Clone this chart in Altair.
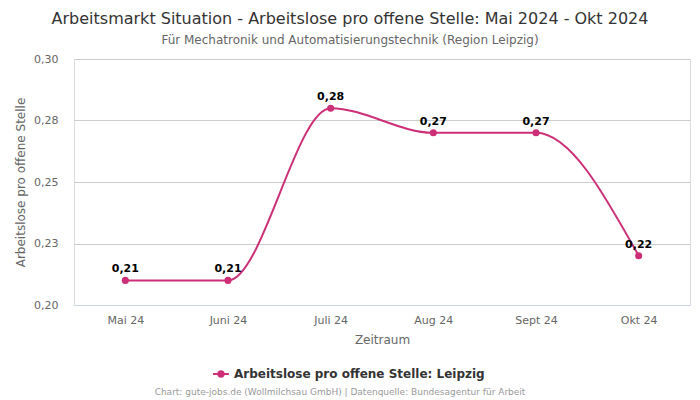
import altair as alt
import pandas as pd

months = ["Mai 24", "Juni 24", "Juli 24", "Aug 24", "Sept 24", "Okt 24"]
values = [0.21, 0.21, 0.28, 0.27, 0.27, 0.22]
series = "Arbeitslose pro offene Stelle: Leipzig"
y_ticks = [0.2, 0.225, 0.25, 0.275, 0.3]

df = pd.DataFrame({"Monat": months, "Wert": values, "Serie": [series] * len(months)})

COLOR = "#cc2f78"
FONT = "DejaVu Sans"

x = alt.X("Monat:N", sort=months, title="Zeitraum",
          scale=alt.Scale(type="point", padding=0.5),
          axis=alt.Axis(labelAngle=0, labelColor="#666666", labelFontSize=11,
                        titleColor="#666666", titleFontSize=12, titleFontWeight="normal",
                        ticks=False, domainColor="#ccd6eb", labelPadding=9, titlePadding=9,
                        grid=False))
y = alt.Y("Wert:Q", title="Arbeitslose pro offene Stelle",
          scale=alt.Scale(domain=[0.2, 0.3], nice=False, zero=False),
          axis=alt.Axis(values=y_ticks, labelExpr="replace(format(datum.value, '.2f'), '.', ',')",
                        labelColor="#666666", labelFontSize=11, titleColor="#666666",
                        titleFontSize=12, titleFontWeight="normal", domain=False, ticks=False,
                        gridColor="#cccccc", labelPadding=16, titlePadding=6))

color = alt.Color("Serie:N", scale=alt.Scale(range=[COLOR]),
                  legend=alt.Legend(title=None, orient="none", legendX=138, legendY=306,
                                    labelFontSize=12, labelFontWeight="bold", labelColor="#333333",
                                    labelLimit=400,
                                    symbolType="M -1 0 L -0.35 0 M 0.35 0 L 1 0 M -0.35 0 A 0.35 0.35 0 1 1 0.35 0 A 0.35 0.35 0 1 1 -0.35 0",
                                    symbolSize=250, symbolStrokeWidth=2, symbolFillColor=COLOR,
                                    symbolStrokeColor=COLOR, labelFont=FONT))

base = alt.Chart(df)
line = base.mark_line(interpolate="monotone", strokeWidth=2).encode(x=x, y=y, color=color)
pts = base.mark_circle(size=50, opacity=1).encode(x=x, y=y, color=alt.Color("Serie:N", scale=alt.Scale(range=[COLOR]), legend=None))
labels = base.mark_text(dy=-11, fontWeight="bold", fontSize=11, color="black", font=FONT).encode(
    x=x, y=y, text=alt.Text("lbl:N")).transform_calculate(
    lbl="replace(format(datum.Wert, '.2f'), '.', ',')")
footer = alt.Chart(pd.DataFrame({"t": ["Chart: gute-jobs.de (Wollmilchsau GmbH) | Datenquelle: Bundesagentur für Arbeit"]})).mark_text(
    fontSize=9, fontWeight="normal", color="#999999", font=FONT).encode(
    x=alt.value(266), y=alt.value(333), text="t:N")

chart = alt.layer(line, pts, labels, footer).properties(
    width=616, height=246,
    title=alt.TitleParams(
        text="Arbeitsmarkt Situation - Arbeitslose pro offene Stelle: Mai 2024 - Okt 2024",
        subtitle="Für Mechatronik und Automatisierungstechnik (Region Leipzig)",
        anchor="middle", dx=-32, fontSize=16, fontWeight="normal", color="#333333",
        subtitleFontSize=12, subtitleColor="#666666", subtitlePadding=8, offset=7, font=FONT,
        subtitleFont=FONT),
    autosize=alt.AutoSizeParams(type="none"),
    padding={"left": 66, "top": 51, "right": 2, "bottom": 95},
).configure_view(stroke=None).configure(font=FONT)

chart.save("out.html", embed_options={"renderer": "svg", "actions": False})
